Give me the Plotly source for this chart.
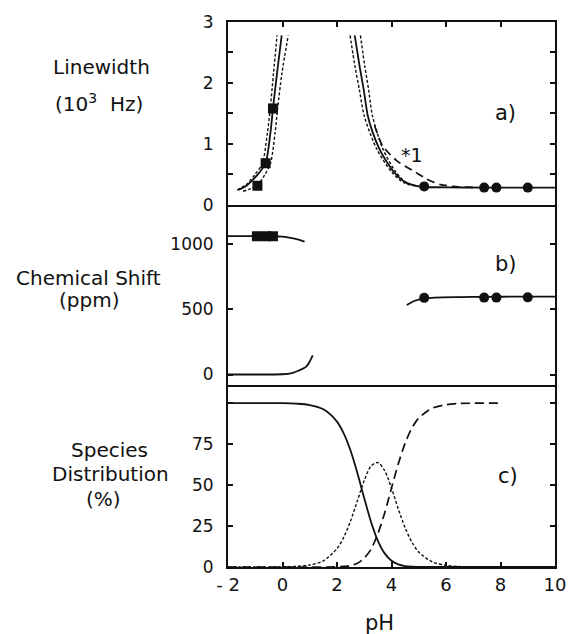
import plotly.graph_objects as go

# ---------------- data ----------------
# Panel a) Linewidth (10^3 Hz)
a_left_solid_x = [-1.63, -1.3, -0.92, -0.78, -0.62, -0.44, -0.35, -0.20, -0.03]
a_left_solid_y = [0.24, 0.32, 0.49, 0.57, 0.68, 1.19, 1.58, 2.16, 2.78]
a_left_dash1_x = [-1.66, -1.3, -1.02, -0.74, -0.55, -0.45, -0.33, -0.20]
a_left_dash1_y = [0.24, 0.34, 0.49, 0.68, 1.19, 1.58, 2.16, 2.78]
a_left_dash2_x = [-1.45, -0.95, -0.65, -0.44, -0.27, -0.18, -0.02, 0.21]
a_left_dash2_y = [0.22, 0.31, 0.49, 0.68, 1.19, 1.58, 2.16, 2.78]

a_right_solid_x = [2.65, 2.83, 2.98, 3.13, 3.30, 3.55, 3.80, 4.08, 4.50, 4.90, 5.20, 6.0, 7.4, 8.0, 9.0, 10.0]
a_right_solid_y = [2.78, 2.27, 1.89, 1.46, 1.20, 0.92, 0.72, 0.54, 0.37, 0.31, 0.29, 0.285, 0.28, 0.28, 0.28, 0.28]
a_right_dash1_x = [2.48, 2.66, 2.82, 3.00, 3.45, 4.00, 4.45, 5.00]
a_right_dash1_y = [2.78, 2.27, 1.89, 1.46, 0.92, 0.54, 0.36, 0.30]
a_right_dash2_x = [2.86, 3.02, 3.16, 3.30, 3.68, 4.15, 4.55, 5.00]
a_right_dash2_y = [2.78, 2.27, 1.89, 1.46, 0.92, 0.54, 0.36, 0.30]
a_star_x = [3.38, 3.67, 4.20, 4.86, 5.30, 5.80, 6.50, 7.00]
a_star_y = [1.30, 0.97, 0.72, 0.54, 0.42, 0.33, 0.29, 0.285]

a_sq_x = [-0.92, -0.62, -0.35]
a_sq_y = [0.31, 0.68, 1.58]
a_ci_x = [5.2, 7.4, 7.85, 9.0]
a_ci_y = [0.30, 0.28, 0.28, 0.28]

# Panel b) Chemical shift (ppm)
b_up_x = [-2.0, -1.5, -1.0, -0.5, 0.0, 0.3, 0.55, 0.81]
b_up_y = [1062, 1062, 1062, 1061, 1057, 1048, 1037, 1020]
b_low_x = [-2.0, -1.0, 0.0, 0.3, 0.57, 0.75, 0.87, 1.0, 1.11]
b_low_y = [0, 0, 2, 8, 28, 45, 60, 100, 146]
b_right_x = [4.56, 4.86, 5.2, 5.6, 6.5, 7.5, 8.5, 10.0]
b_right_y = [533, 566, 582, 590, 594, 596, 597, 598]
b_sq_x = [-0.94, -0.60, -0.35]
b_sq_y = [1060, 1060, 1060]
b_ci_x = [5.2, 7.4, 7.85, 9.0]
b_ci_y = [588, 590, 590, 592]

# Panel c) Species distribution (%)
c_x = [-2, -1, 0, 0.5, 1, 1.5, 2, 2.25, 2.5, 2.75, 3, 3.25, 3.5, 3.75, 4, 4.25, 4.5, 4.75, 5, 5.5, 6, 6.5, 7, 8, 9, 10]
c_solid = [100, 100, 99.9, 99.6, 98.8, 96.2, 88.7, 81.4, 70.9, 57.2, 41.9, 27.5, 16.0, 8.3, 3.8, 1.6, 0.6, 0.2, 0.1, 0, 0, 0, 0, 0, 0, 0]
c_dot = [0, 0, 0.1, 0.4, 1.2, 3.8, 11.2, 18.2, 28.2, 40.5, 52.7, 61.6, 63.7, 58.7, 48.1, 35.4, 23.9, 15.1, 9.1, 3.1, 1.0, 0.3, 0.1, 0, 0, 0]
c_dash_x = [-2, -1, 0, 0.5, 1, 1.5, 2, 2.25, 2.5, 2.75, 3, 3.25, 3.5, 3.75, 4, 4.25, 4.5, 4.75, 5, 5.5, 6, 6.5, 7, 8]
c_dash = [0, 0, 0, 0, 0, 0, 0.1, 0.4, 0.9, 2.3, 5.4, 10.9, 20.3, 33.0, 48.1, 63.0, 75.5, 84.8, 90.9, 96.9, 99.0, 99.7, 99.9, 100]

x_ticks = [-2, 0, 2, 4, 6, 8, 10]
x_ticktext = ["- 2", "0", "2", "4", "6", "8", "10"]
a_ticks = [0, 0.5, 1, 1.5, 2, 2.5, 3]
a_ticktext = ["0", "", "1", "", "2", "", "3"]
b_ticks = [0, 500, 1000]
b_ticktext = ["0", "500", "1000"]
c_ticks = [0, 25, 50, 75, 100]
c_ticktext = ["0", "25", "50", "75", ""]

# ---------------- figure ----------------
FONT = "DejaVu Sans"
BLACK = "#111111"
fig = go.Figure()

def line(x, y, xa, ya, dash="solid", w=1.8):
    fig.add_trace(go.Scatter(x=x, y=y, xaxis=xa, yaxis=ya, mode="lines",
                             line=dict(color=BLACK, width=w, dash=dash, shape="spline", smoothing=0.8),
                             showlegend=False, hoverinfo="skip"))

def pts(x, y, xa, ya, symbol):
    fig.add_trace(go.Scatter(x=x, y=y, xaxis=xa, yaxis=ya, mode="markers",
                             marker=dict(color=BLACK, size=10, symbol=symbol),
                             showlegend=False, hoverinfo="skip"))

# panel a
line(a_left_solid_x, a_left_solid_y, "x3", "y3")
line(a_left_dash1_x, a_left_dash1_y, "x3", "y3", dash="3px,2px", w=1.4)
line(a_left_dash2_x, a_left_dash2_y, "x3", "y3", dash="3px,2px", w=1.4)
line(a_right_solid_x, a_right_solid_y, "x3", "y3")
line(a_right_dash1_x, a_right_dash1_y, "x3", "y3", dash="3px,2px", w=1.4)
line(a_right_dash2_x, a_right_dash2_y, "x3", "y3", dash="3px,2px", w=1.4)
line(a_star_x, a_star_y, "x3", "y3", dash="8px,5px", w=1.7)
pts(a_sq_x, a_sq_y, "x3", "y3", "square")
pts(a_ci_x, a_ci_y, "x3", "y3", "circle")

# panel b
line(b_up_x, b_up_y, "x2", "y2")
line(b_low_x, b_low_y, "x2", "y2")
line(b_right_x, b_right_y, "x2", "y2")
pts(b_sq_x, b_sq_y, "x2", "y2", "square")
pts(b_ci_x, b_ci_y, "x2", "y2", "circle")

# panel c
line(c_x, c_solid, "x", "y")
line(c_x, c_dot, "x", "y", dash="3px,2px", w=1.4)
line(c_dash_x, c_dash, "x", "y", dash="9px,5px", w=1.7)

# geometry (pixels) of the plot area
L, R, T, B = 228, 563, 15, 567
W, H = 578, 634
PW, PH = R - L, B - T

def px(x):
    return (x - L) / PW

def py(y):
    return (B - y) / PH

dom_c = [0, py(383)]
dom_b = [py(383), py(200)]
dom_a = [py(200), 1]

tickfont = dict(family=FONT, size=17, color=BLACK)
common_x = dict(range=[-2, 10], showgrid=False, zeroline=False, linecolor=BLACK, linewidth=2)
common_y = dict(showgrid=False, zeroline=False, linecolor=BLACK, linewidth=2, showline=True,
                mirror="ticks", ticks="inside", ticklen=5, tickwidth=1.5, tickcolor=BLACK,
                tickfont=tickfont, ticklabelstandoff=9, tickmode="array")

fig.update_layout(
    width=W, height=H,
    margin=dict(l=L, r=W - R, t=T, b=H - B),
    paper_bgcolor="white", plot_bgcolor="white",
    xaxis=dict(**common_x, anchor="y", showline=True, ticks="inside", ticklen=5, tickwidth=1.5,
               tickcolor=BLACK, tickmode="array", tickvals=x_ticks, ticktext=x_ticktext,
               tickfont=dict(family=FONT, size=18, color=BLACK)),
    xaxis2=dict(**common_x, anchor="y2", showline=True, ticks="", showticklabels=False, matches="x"),
    xaxis3=dict(**common_x, anchor="y3", showline=True, mirror=True, side="top", ticks="inside",
                ticklen=5, tickwidth=1.5, tickcolor=BLACK, tickmode="array", tickvals=x_ticks,
                showticklabels=False, matches="x"),
    yaxis=dict(**common_y, domain=dom_c, anchor="x", range=[0, 110.8], tickvals=c_ticks, ticktext=c_ticktext),
    yaxis2=dict(**common_y, domain=dom_b, anchor="x2", range=[-83, 1303], tickvals=b_ticks, ticktext=b_ticktext),
    yaxis3=dict(**common_y, domain=dom_a, anchor="x3", range=[0, 3], tickvals=a_ticks, ticktext=a_ticktext),
    # overlay axes: outward part of the left ticks
    yaxis4=dict(overlaying="y", anchor="x", range=[0, 110.8], showline=False, showgrid=False, zeroline=False,
                ticks="outside", ticklen=4, tickwidth=1.5, tickcolor=BLACK, showticklabels=False,
                tickmode="array", tickvals=c_ticks),
    yaxis5=dict(overlaying="y2", anchor="x2", range=[-83, 1303], showline=False, showgrid=False, zeroline=False,
                ticks="outside", ticklen=4, tickwidth=1.5, tickcolor=BLACK, showticklabels=False,
                tickmode="array", tickvals=b_ticks),
    yaxis6=dict(overlaying="y3", anchor="x3", range=[0, 3], showline=False, showgrid=False, zeroline=False,
                ticks="outside", ticklen=4, tickwidth=1.5, tickcolor=BLACK, showticklabels=False,
                tickmode="array", tickvals=a_ticks),
)

def note(text, x, y, size=20):
    fig.add_annotation(text=text, x=px(x), y=py(y), xref="paper", yref="paper",
                       showarrow=False, xanchor="center", yanchor="middle",
                       font=dict(family=FONT, size=size, color=BLACK))

note("Linewidth", 98, 61)
note("(10<sup>3</sup>  Hz)", 96, 97)
note("Chemical Shift", 85, 274)
note("(ppm)", 86, 297)
note("Species", 107, 448)
note("Distribution", 108, 473)
note("(%)", 100, 498)
note("a)", 512, 107, 21)
note("b)", 513, 260, 21)
note("c)", 515, 475, 21)
note("*1", 416, 150, 19)
note("pH", 383, 624, 21)

fig.write_html("out.html")
